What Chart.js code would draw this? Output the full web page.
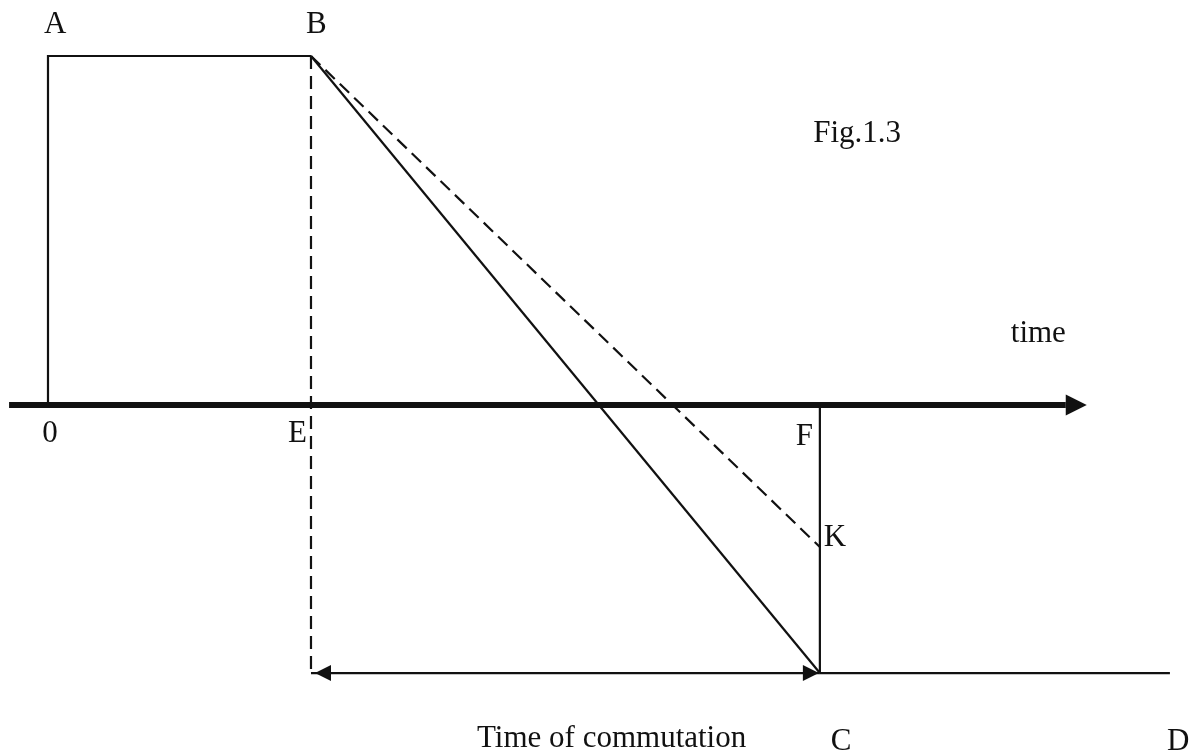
<!DOCTYPE html>
<html>
<head>
<meta charset="utf-8">
<title>Fig.1.3</title>
<script src="https://cdn.jsdelivr.net/npm/chart.js@4.4.1/dist/chart.umd.min.js"></script>
<style>
    html, body { margin: 0; padding: 0; background: #fff; }
    #wrap { width: 1202px; height: 756px; }
</style>
</head>
<body>
<div id="wrap"><canvas id="fig" width="1202" height="756"></canvas></div>
<script>
// time positions (along the time axis)
const tOrigin = 0;
const tE = 10;          // end of the flat top, B / E
const tF = 29.35;       // end of commutation, F / K / C
const tD = 42.66;       // end of the line C-D
const tAxisStart = -1.48;
const tAxisEnd = 38.7;  // base of the arrow head on the time axis

// current levels
const iA = 10;          // A-B level
const iZero = 0;
const iK = -4.07;       // point K
const iC = -7.68;       // C-D level

// visible window of the figure
const tMin = -1.825, tMax = 43.88;
const iMin = -10.057, iMax = 11.605;

const INK = '#111';
const FONT = "31px 'Liberation Serif', 'DejaVu Serif', serif";

function pt(x, y) { return { x: x, y: y }; }

function lineSet(points, width, dash) {
    return {
        data: points,
        borderColor: INK,
        borderWidth: width,
        borderDash: dash || [],
        borderCapStyle: 'butt',
        borderJoinStyle: 'miter',
        pointRadius: 0,
        showLine: true,
        fill: false,
        tension: 0,
        clip: false
    };
}

// arrow heads + labels, placed through the scales
const annotate = {
    id: 'annotate',
    afterDatasetsDraw(chart) {
        const ctx = chart.ctx;
        const xs = chart.scales.x, ys = chart.scales.y;
        const px = v => xs.getPixelForValue(v);
        const py = v => ys.getPixelForValue(v);

        ctx.save();
        ctx.fillStyle = INK;

        // head from base point (bx,by), pointing dir (+1 right / -1 left)
        function head(bx, by, dir, len, half) {
            ctx.beginPath();
            ctx.moveTo(bx, by - half);
            ctx.lineTo(bx + dir * len, by);
            ctx.lineTo(bx, by + half);
            ctx.closePath();
            ctx.fill();
        }

        // time axis arrow
        head(px(tAxisEnd), py(iZero), 1, 21, 10.5);
        // time of commutation: double arrow
        head(px(tE) + 20, py(iC), -1, 16, 8);
        head(px(tF) - 17, py(iC), 1, 16, 8);

        ctx.font = FONT;
        ctx.textBaseline = 'alphabetic';
        function label(text, x, y, dx, dy, align) {
            ctx.textAlign = align || 'left';
            ctx.fillText(text, px(x) + dx, py(y) + dy);
        }
        label('A', tOrigin, iA, -4, -23);
        label('B', tE, iA, -5, -23);
        label('0', tOrigin, iZero, 2, 37, 'center');
        label('E', tE, iZero, -4, 37, 'right');
        label('F', tF, iZero, -7, 40, 'right');
        label('K', tF, iK, 4, -1);
        label('C', tF, iC, 11, 77);
        label('D', tD, iC, -3, 77);
        label('Time of commutation', tE, iC, 166, 74);
        label('time', tAxisEnd, iZero, -55, -63);

        ctx.textAlign = 'right';
        ctx.fillText('Fig.1.3', chart.chartArea.left + 901, chart.chartArea.top + 142);
        ctx.restore();
    }
};

new Chart(document.getElementById('fig'), {
    type: 'scatter',
    data: {
        datasets: [
            // pulse 0-A-B
            lineSet([pt(tOrigin, iZero), pt(tOrigin, iA), pt(tE, iA)], 2.2),
            // dashed drop B-E
            lineSet([pt(tE, iA), pt(tE, iC)], 2.2, [13, 7]),
            // B-C solid
            lineSet([pt(tE, iA), pt(tF, iC)], 2.2),
            // B-K dashed
            lineSet([pt(tE, iA), pt(tF, iK)], 2.2, [13, 7]),
            // F-C
            lineSet([pt(tF, iZero), pt(tF, iC)], 2.2),
            // C-D
            lineSet([pt(tF, iC), pt(tD, iC)], 2.2),
            // commutation interval
            lineSet([pt(tE, iC), pt(tF, iC)], 2.2),
            // time axis
            lineSet([pt(tAxisStart, iZero), pt(tAxisEnd, iZero)], 6)
        ]
    },
    options: {
        responsive: false,
        animation: false,
        events: [],
        layout: { padding: 0 },
        scales: {
            x: { type: 'linear', min: tMin, max: tMax, display: false },
            y: { type: 'linear', min: iMin, max: iMax, display: false }
        },
        plugins: {
            legend: { display: false },
            tooltip: { enabled: false }
        }
    },
    plugins: [annotate]
});
</script>
</body>
</html>
